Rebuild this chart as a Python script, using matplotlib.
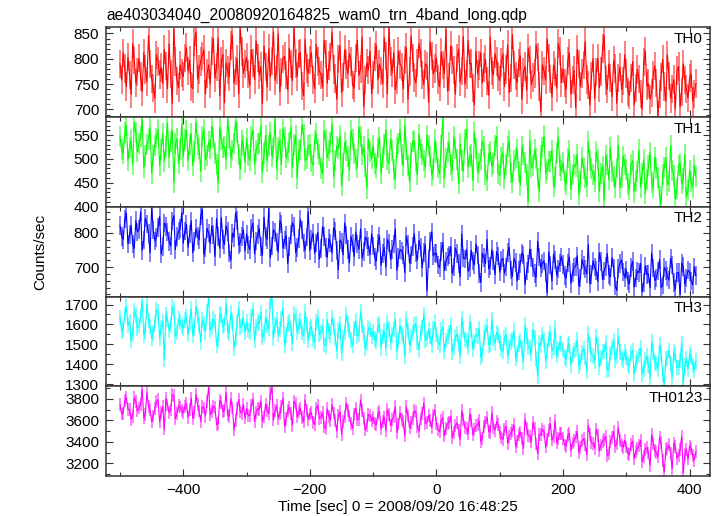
"""WAM light curve, four energy bands plus the sum, stacked panels."""

import matplotlib

matplotlib.use("Agg")
import matplotlib.pyplot as plt
import numpy as np
from matplotlib.ticker import MultipleLocator

plt.rcParams["font.family"] = ["Liberation Sans", "DejaVu Sans"]

# samples every 2.5 s, seconds relative to 2008/09/20 16:48:25
# *_rate holds the samples at -500, -495, ..., 410
# *_rate_mid holds the samples in between: -497.5, -492.5, ..., 407.5
time_sec = np.arange(-500, 410.1, 2.5)

th0_rate = [
    790, 812, 745, 768, 830, 752, 801, 735, 779, 846, 760, 722, 795, 783, 818, 741, 770, 859, 756, 788,
    765, 822, 798, 741, 853, 779, 806, 730, 788, 815, 762, 841, 795, 713, 778, 826, 752, 800, 860, 771,
    803, 748, 792, 835, 768, 711, 784, 820, 796, 757, 849, 774, 805, 738, 790, 862, 765, 812, 727, 781,
    798, 758, 829, 776, 744, 810, 787, 852, 761, 799, 733, 818, 770, 795, 742, 836, 780, 705, 792, 815,
    768, 827, 790, 751, 806, 861, 772, 739, 815, 784, 798, 720, 845, 763, 792, 811, 749, 786, 833, 770,
    802, 745, 788, 858, 764, 797, 730, 819, 776, 750, 836, 791, 709, 770, 812, 783, 756, 843, 768, 795,
    757, 810, 779, 733, 848, 766, 792, 720, 785, 821, 749, 771, 804, 695, 776, 839, 760, 788, 742, 815,
    780, 739, 812, 758, 703, 790, 771, 834, 748, 766, 722, 801, 775, 846, 740, 762, 797, 712, 784, 756,
    771, 728, 795, 742, 760, 700, 815, 751, 733, 786, 688, 764, 745, 808, 722, 759, 777, 705, 790, 740,
    762, 716, 751,
]
th0_rate_mid = [
    758, 781, 803, 730, 797, 774, 765, 812, 755, 790, 742, 808, 769, 751, 786, 829, 712, 795, 743, 772,
    801, 776, 745, 833, 760, 795, 818, 771, 750, 839, 784, 727, 809, 792, 764, 847, 776, 731, 814, 790,
    770, 818, 759, 801, 785, 826, 744, 765, 853, 779, 735, 800, 768, 821, 757, 791, 810, 746, 838, 772,
    812, 741, 795, 768, 837, 752, 803, 779, 720, 826, 764, 789, 810, 748, 801, 767, 843, 758, 778, 731,
    803, 759, 776, 842, 731, 795, 812, 758, 789, 740, 822, 775, 801, 752, 830, 768, 790, 714, 806, 781,
    759, 813, 771, 736, 826, 778, 801, 754, 844, 769, 790, 742, 815, 787, 752, 799, 728, 776, 810, 765,
    793, 745, 828, 762, 788, 752, 806, 773, 738, 797, 763, 827, 745, 788, 758, 801, 725, 774, 830, 753,
    752, 796, 730, 777, 818, 745, 788, 759, 709, 801, 774, 743, 820, 757, 790, 725, 781, 762, 740, 808,
    735, 762, 709, 779, 731, 794, 746, 720, 768, 752, 731, 799, 716, 766, 740, 701, 785, 734, 758, 723,
    770, 730,
]
th1_rate = [
    548, 512, 571, 525, 489, 556, 533, 584, 507, 541, 470, 528, 562, 519, 495, 575, 536, 451, 543, 520,
    505, 560, 531, 486, 578, 522, 547, 498, 536, 569, 511, 450, 540, 526, 583, 503, 532, 555, 478, 529,
    543, 497, 561, 518, 533, 472, 550, 529, 506, 585, 524, 488, 545, 514, 566, 531, 459, 519, 552, 500,
    530, 487, 553, 509, 469, 541, 518, 574, 496, 522, 444, 535, 505, 560, 512, 483, 547, 526, 438, 515,
    528, 481, 546, 503, 562, 490, 517, 458, 533, 509, 571, 486, 512, 539, 467, 521, 496, 550, 505, 477,
    513, 469, 585, 502, 534, 476, 521, 448, 497, 540, 483, 510, 556, 472, 499, 527, 455, 515, 490, 548,
    466, 512, 489, 538, 451, 503, 474, 526, 492, 410, 481, 519, 460, 507, 549, 477, 495, 442, 513, 486,
    492, 447, 517, 468, 485, 425, 503, 461, 536, 479, 452, 498, 470, 412, 489, 524, 463, 481, 440, 506,
    478, 436, 497, 455, 519, 470, 428, 486, 451, 504, 462, 405, 482, 445, 528, 466, 437, 491, 458, 420,
    476, 441, 463,
]
th1_rate_mid = [
    519, 555, 497, 540, 576, 515, 548, 482, 530, 566, 508, 544, 486, 553, 527, 503, 561, 532, 490, 572,
    541, 496, 553, 515, 531, 474, 562, 508, 521, 545, 488, 567, 523, 498, 546, 517, 580, 509, 539, 493,
    508, 547, 489, 532, 571, 511, 495, 556, 522, 478, 540, 563, 502, 535, 481, 549, 518, 572, 497, 528,
    495, 538, 521, 480, 559, 503, 534, 462, 527, 549, 491, 518, 476, 540, 498, 567, 509, 485, 542, 501,
    490, 523, 470, 531, 498, 542, 478, 525, 561, 486, 519, 452, 536, 494, 552, 509, 483, 528, 466, 540,
    481, 529, 460, 515, 488, 547, 499, 532, 474, 563, 506, 455, 522, 491, 538, 468, 510, 484, 529, 470,
    503, 458, 527, 472, 496, 520, 445, 510, 468, 539, 487, 501, 431, 524, 470, 495, 518, 462, 546, 475,
    455, 502, 436, 488, 510, 452, 480, 443, 497, 468, 515, 432, 485, 508, 456, 474, 440, 529, 461, 489,
    447, 489, 430, 473, 441, 498, 456, 514, 439, 479, 422, 468, 503, 452, 476, 415, 487, 449, 509, 433,
    452, 487,
]
th2_rate = [
    822, 781, 858, 795, 767, 836, 810, 749, 843, 798, 873, 776, 815, 738, 829, 802, 761, 850, 789, 812,
    770, 825, 796, 742, 812, 780, 868, 757, 799, 819, 731, 790, 845, 766, 804, 720, 787, 836, 772, 808,
    797, 751, 829, 776, 812, 735, 790, 871, 762, 801, 744, 826, 779, 710, 795, 818, 757, 840, 771, 788,
    748, 799, 770, 723, 818, 757, 783, 741, 806, 692, 772, 829, 751, 789, 731, 768, 812, 745, 779, 736,
    762, 718, 791, 739, 700, 770, 752, 812, 728, 747, 684, 766, 735, 798, 721, 757, 742, 630, 775, 733,
    740, 698, 772, 716, 735, 680, 756, 711, 797, 724, 688, 749, 707, 736, 655, 728, 781, 703, 719, 745,
    685, 726, 701, 758, 672, 714, 690, 741, 649, 709, 727, 682, 775, 698, 718, 625, 706, 738, 676, 712,
    708, 667, 729, 684, 702, 645, 722, 695, 766, 678, 700, 658, 717, 689, 740, 671, 698, 632, 711, 686,
    692, 651, 717, 668, 684, 627, 703, 680, 741, 661, 688, 640, 699, 673, 725, 655, 684, 619, 702, 668,
    686, 648, 675,
]
th2_rate_mid = [
    790, 840, 768, 821, 755, 803, 862, 779, 826, 742, 809, 787, 848, 760, 818, 775, 835, 751, 806, 859,
    806, 758, 835, 774, 791, 850, 737, 813, 768, 795, 842, 755, 781, 821, 741, 799, 858, 764, 790, 747,
    764, 812, 738, 795, 760, 846, 781, 727, 809, 773, 835, 755, 792, 760, 829, 742, 784, 808, 750, 862,
    781, 740, 802, 754, 789, 728, 771, 815, 748, 779, 736, 794, 713, 770, 803, 752, 726, 788, 760, 797,
    729, 771, 705, 758, 781, 722, 767, 690, 751, 735, 790, 712, 760, 741, 778, 698, 765, 724, 803, 741,
    706, 745, 690, 730, 760, 701, 739, 672, 726, 752, 697, 718, 768, 681, 740, 710, 695, 751, 678, 733,
    719, 682, 743, 691, 725, 660, 710, 736, 688, 752, 699, 670, 729, 711, 684, 745, 659, 720, 695, 730,
    675, 712, 652, 700, 733, 668, 705, 680, 651, 718, 690, 742, 663, 702, 679, 728, 645, 696, 721, 670,
    660, 699, 642, 688, 711, 655, 679, 640, 697, 668, 722, 647, 690, 662, 706, 635, 684, 712, 650, 691,
    659, 701,
]
th3_rate = [
    1635, 1578, 1689, 1611, 1552, 1647, 1594, 1720, 1568, 1620, 1531, 1603, 1662, 1584, 1425, 1628, 1597, 1672, 1559, 1613,
    1582, 1641, 1609, 1545, 1690, 1596, 1622, 1563, 1731, 1587, 1615, 1520, 1648, 1599, 1568, 1659, 1481, 1614, 1586, 1634,
    1612, 1561, 1675, 1588, 1604, 1535, 1640, 1579, 1736, 1596, 1550, 1627, 1495, 1601, 1583, 1654, 1562, 1618, 1541, 1597,
    1578, 1528, 1612, 1549, 1590, 1493, 1566, 1636, 1537, 1571, 1455, 1560, 1603, 1522, 1580, 1542, 1665, 1551, 1508, 1574,
    1563, 1516, 1601, 1539, 1480, 1577, 1548, 1625, 1521, 1554, 1440, 1569, 1532, 1596, 1510, 1556, 1651, 1527, 1543, 1578,
    1549, 1498, 1586, 1520, 1556, 1462, 1538, 1507, 1631, 1525, 1490, 1572, 1515, 1541, 1436, 1533, 1594, 1502, 1529, 1560,
    1512, 1465, 1549, 1488, 1524, 1430, 1501, 1478, 1596, 1490, 1455, 1535, 1340, 1497, 1521, 1470, 1558, 1484, 1446, 1509,
    1475, 1428, 1503, 1446, 1481, 1390, 1459, 1436, 1552, 1449, 1414, 1493, 1432, 1465, 1372, 1455, 1517, 1441, 1462, 1420,
    1436, 1389, 1470, 1408, 1445, 1352, 1421, 1398, 1512, 1411, 1376, 1457, 1295, 1430, 1402, 1462, 1385, 1419, 1300, 1427,
    1452, 1395, 1418,
]
th3_rate_mid = [
    1566, 1650, 1598, 1521, 1669, 1583, 1640, 1547, 1704, 1590, 1556, 1676, 1532, 1615, 1649, 1570, 1688, 1541, 1629, 1595,
    1623, 1550, 1678, 1581, 1640, 1512, 1604, 1665, 1571, 1628, 1497, 1652, 1589, 1706, 1556, 1618, 1533, 1681, 1595, 1560,
    1569, 1637, 1520, 1611, 1660, 1550, 1594, 1715, 1531, 1626, 1576, 1682, 1548, 1612, 1505, 1638, 1592, 1559, 1665, 1521,
    1590, 1512, 1637, 1560, 1499, 1622, 1548, 1587, 1466, 1604, 1533, 1651, 1570, 1495, 1618, 1551, 1596, 1480, 1585, 1542,
    1528, 1595, 1483, 1566, 1610, 1512, 1574, 1463, 1592, 1537, 1628, 1494, 1557, 1603, 1475, 1585, 1520, 1572, 1498, 1611,
    1509, 1571, 1465, 1540, 1598, 1488, 1553, 1442, 1575, 1517, 1610, 1476, 1545, 1580, 1453, 1561, 1498, 1625, 1506, 1548,
    1476, 1531, 1440, 1512, 1568, 1452, 1520, 1410, 1541, 1483, 1575, 1428, 1506, 1550, 1415, 1528, 1465, 1585, 1472, 1501,
    1436, 1495, 1398, 1470, 1521, 1412, 1480, 1365, 1497, 1443, 1538, 1388, 1464, 1509, 1375, 1487, 1421, 1543, 1430, 1462,
    1399, 1455, 1352, 1430, 1482, 1377, 1441, 1330, 1463, 1404, 1498, 1348, 1426, 1470, 1337, 1449, 1385, 1505, 1392, 1378,
    1440, 1371,
]
th0123_rate = [
    3750, 3668, 3815, 3702, 3640, 3779, 3716, 3890, 3655, 3731, 3587, 3708, 3793, 3676, 3520, 3744, 3697, 3832, 3661, 3725,
    3671, 3756, 3703, 3618, 3842, 3688, 3728, 3640, 3905, 3680, 3717, 3572, 3770, 3694, 3650, 3801, 3515, 3712, 3679, 3748,
    3709, 3641, 3798, 3676, 3701, 3593, 3752, 3665, 3910, 3689, 3620, 3731, 3540, 3694, 3668, 3779, 3632, 3715, 3585, 3690,
    3660, 3584, 3712, 3618, 3671, 3522, 3639, 3748, 3597, 3650, 3470, 3633, 3696, 3571, 3658, 3605, 3790, 3620, 3553, 3647,
    3628, 3557, 3683, 3590, 3505, 3655, 3607, 3730, 3566, 3612, 3455, 3641, 3578, 3689, 3540, 3618, 3762, 3582, 3596, 3650,
    3570, 3494, 3625, 3528, 3583, 3440, 3552, 3505, 3690, 3532, 3478, 3603, 3515, 3560, 3402, 3545, 3630, 3490, 3536, 3588,
    3488, 3421, 3547, 3452, 3506, 3360, 3470, 3435, 3612, 3458, 3402, 3521, 3290, 3466, 3498, 3425, 3571, 3447, 3389, 3480,
    3432, 3360, 3481, 3390, 3445, 3302, 3410, 3376, 3553, 3395, 3342, 3462, 3371, 3420, 3270, 3403, 3496, 3380, 3412, 3350,
    3352, 3281, 3405, 3311, 3370, 3215, 3331, 3296, 3468, 3318, 3260, 3392, 3120, 3340, 3295, 3386, 3248, 3325, 3110, 3333,
    3362, 3270, 3310,
]
th0123_rate_mid = [
    3660, 3782, 3701, 3610, 3810, 3688, 3751, 3623, 3858, 3697, 3641, 3775, 3587, 3729, 3806, 3672, 3840, 3618, 3742, 3690,
    3732, 3628, 3809, 3670, 3745, 3590, 3716, 3779, 3652, 3733, 3560, 3788, 3681, 3862, 3635, 3724, 3601, 3795, 3668, 3622,
    3648, 3741, 3588, 3712, 3780, 3632, 3690, 3851, 3605, 3736, 3661, 3805, 3620, 3722, 3556, 3754, 3679, 3628, 3790, 3610,
    3672, 3561, 3744, 3630, 3540, 3708, 3602, 3669, 3500, 3682, 3590, 3760, 3641, 3528, 3716, 3612, 3690, 3512, 3655, 3598,
    3574, 3666, 3520, 3631, 3702, 3551, 3640, 3488, 3672, 3593, 3726, 3530, 3615, 3680, 3498, 3661, 3570, 3645, 3532, 3697,
    3512, 3601, 3455, 3568, 3635, 3489, 3577, 3421, 3610, 3522, 3658, 3470, 3549, 3596, 3431, 3585, 3498, 3671, 3509, 3560,
    3437, 3519, 3388, 3481, 3560, 3402, 3492, 3340, 3528, 3449, 3581, 3380, 3470, 3515, 3352, 3502, 3418, 3596, 3430, 3475,
    3371, 3458, 3320, 3412, 3497, 3345, 3428, 3280, 3465, 3385, 3520, 3318, 3405, 3452, 3290, 3440, 3356, 3531, 3368, 3415,
    3293, 3378, 3240, 3336, 3415, 3262, 3349, 3180, 3388, 3302, 3440, 3225, 3328, 3372, 3150, 3360, 3270, 3452, 3285, 3240,
    3340, 3230,
]

band_names = ["TH0", "TH1", "TH2", "TH3", "TH0123"]
band_rates = [
    (th0_rate, th0_rate_mid),
    (th1_rate, th1_rate_mid),
    (th2_rate, th2_rate_mid),
    (th3_rate, th3_rate_mid),
    (th0123_rate, th0123_rate_mid),
]
band_errors = [28, 22, 27, 39, 60]  # typical 1-sigma bar half-length
band_colors = ["#ff0000", "#00ff00", "#0000ff", "#00ffff", "#ff00ff"]
band_ylims = [(685, 862), (399.5, 588), (614, 876), (1290, 1740), (3082, 3918)]
band_major = [50, 50, 100, 100, 200]
band_minor = [10, 10, 20, 50, 100]


def merge_samples(on_step, mid_step):
    """Interleave the on-step and half-step samples into one time-ordered series."""
    rate = np.empty(len(on_step) + len(mid_step))
    rate[0::2] = on_step
    rate[1::2] = mid_step
    return rate


fig, axes = plt.subplots(5, 1, sharex=True, figsize=(7.17, 5.16), dpi=100)
fig.subplots_adjust(left=0.148, right=0.990, top=0.947, bottom=0.0775, hspace=0)

for ax, name, (on_step, mid_step), err, color, ylim, major, minor in zip(
    axes, band_names, band_rates, band_errors, band_colors, band_ylims, band_major, band_minor
):
    rate = merge_samples(on_step, mid_step)
    ax.errorbar(time_sec, rate, yerr=err, fmt="none", ecolor=color, alpha=0.5, elinewidth=1.4)
    ax.plot(time_sec, rate, color=color, lw=0.8)
    ax.set_ylim(*ylim)
    ax.yaxis.set_major_locator(MultipleLocator(major))
    ax.yaxis.set_minor_locator(MultipleLocator(minor))
    ax.text(0.988, 0.95, name, transform=ax.transAxes, ha="right", va="top", fontsize=11)
    for side in ax.spines.values():
        side.set_color("#333333")
        side.set_linewidth(1.1)
    ax.tick_params(which="both", direction="in", top=True, right=True, color="#333333",
                   labelsize=11, width=0.8, pad=5)
    ax.tick_params(which="major", length=5)
    ax.tick_params(which="minor", length=2.8)

axes[-1].set_xlim(-522, 432)
axes[-1].xaxis.set_major_locator(MultipleLocator(200))
axes[-1].xaxis.set_minor_locator(MultipleLocator(100))

fig.text(0.149, 0.971, "ae403034040_20080920164825_wam0_trn_4band_long.qdp",
         ha="left", va="center", fontsize=11.2)
fig.text(0.056, 0.512, "Counts/sec", rotation=90, ha="center", va="center", fontsize=11)
fig.text(0.555, 0.018, "Time [sec] 0 = 2008/09/20 16:48:25", ha="center", va="center", fontsize=11)

fig.savefig("out.png", dpi=100)
